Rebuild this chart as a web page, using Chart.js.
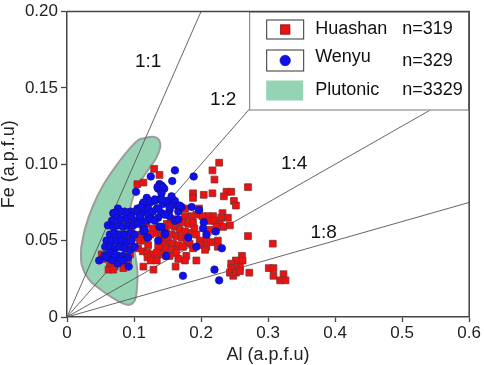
<!DOCTYPE html>
<html><head><meta charset="utf-8">
<script src="https://cdn.jsdelivr.net/npm/chart.js@4/dist/chart.umd.min.js"></script>
<style>html,body{margin:0;padding:0;background:#fff;}#wrap{width:484px;height:365px;position:relative;}</style>
</head><body><div id="wrap"><canvas id="c"></canvas></div>
<script>
const xTickLabels = ['0','0.1','0.2','0.3','0.4','0.5','0.6'];
const yTickLabels = ['0','0.05','0.10','0.15','0.20'];
const seriesNames = ['Huashan','Wenyu','Plutonic'];
const seriesCounts = ['n=319','n=329','n=3329'];
const ratioLabels = ['1:1','1:2','1:4','1:8'];
const ratioSlopes = [1,0.5,0.25,0.125];

// Huashan (Al, Fe)
const huashan = [
[0.105,0.087],[0.114,0.088],[0.130,0.097],[0.138,0.093],
[0.227,0.101],[0.217,0.096],[0.220,0.090],[0.270,0.085],
[0.188,0.081],[0.204,0.080],[0.217,0.081],[0.238,0.082],[0.245,0.082],[0.234,0.079],[0.249,0.076],[0.252,0.073],[0.188,0.078],
[0.176,0.071],[0.197,0.071],[0.232,0.068],[0.240,0.065],[0.218,0.066],[0.210,0.066],[0.202,0.066],[0.193,0.067],[0.186,0.066],[0.176,0.066],
[0.230,0.065],[0.213,0.063],[0.220,0.063],[0.228,0.061],[0.233,0.059],[0.223,0.059],[0.213,0.057],[0.243,0.060],[0.270,0.053],
[0.158,0.064],[0.166,0.062],[0.173,0.062],[0.181,0.061],[0.188,0.062],[0.153,0.061],[0.161,0.059],[0.168,0.057],[0.176,0.056],
[0.186,0.055],[0.190,0.058],[0.193,0.054],[0.148,0.055],[0.156,0.054],[0.163,0.053],[0.171,0.052],[0.178,0.050],[0.198,0.050],
[0.208,0.051],[0.215,0.049],[0.225,0.050],[0.141,0.050],[0.151,0.049],[0.158,0.048],[0.146,0.046],[0.153,0.044],[0.166,0.047],
[0.173,0.046],[0.183,0.048],[0.188,0.045],[0.201,0.047],[0.208,0.046],[0.141,0.042],[0.148,0.040],[0.161,0.044],[0.178,0.040],
[0.176,0.037],[0.193,0.037],[0.206,0.044],[0.225,0.046],[0.162,0.033],
[0.261,0.040],[0.262,0.037],[0.252,0.037],[0.245,0.035],[0.258,0.033],[0.252,0.032],[0.245,0.032],[0.243,0.029],[0.248,0.027],
[0.252,0.029],[0.258,0.030],[0.272,0.029],
[0.307,0.048],[0.301,0.032],[0.308,0.032],[0.308,0.027],[0.323,0.028],[0.318,0.024],[0.326,0.024],
[0.111,0.054],[0.104,0.052],[0.109,0.050],[0.116,0.050],[0.121,0.047],[0.106,0.045],[0.113,0.043],[0.120,0.042],[0.128,0.041],
[0.120,0.039],[0.125,0.037],[0.134,0.037],[0.114,0.033],[0.129,0.031],[0.134,0.055],[0.141,0.053],[0.148,0.052],[0.138,0.049],
[0.143,0.047],[0.136,0.046],[0.148,0.045],[0.156,0.044],[0.163,0.042],[0.153,0.040],[0.141,0.041],[0.166,0.038],[0.134,0.042],
[0.052,0.041],[0.054,0.038],[0.064,0.033],[0.062,0.031],[0.066,0.035],[0.071,0.033],[0.084,0.035],[0.091,0.038],[0.094,0.041],
[0.096,0.046],[0.091,0.052],[0.096,0.058],[0.094,0.063],[0.069,0.031],[0.084,0.032],
[0.156,0.063],[0.149,0.061],[0.153,0.060],[0.118,0.061],[0.128,0.058],[0.145,0.058],[0.124,0.054]
];

// Wenyu (Al, Fe)
const wenyu = [
[0.161,0.096],[0.189,0.092],[0.157,0.089],[0.125,0.092],[0.103,0.082],[0.138,0.087],[0.136,0.084],[0.145,0.084],[0.141,0.081],
[0.119,0.078],[0.131,0.076],[0.138,0.077],[0.113,0.074],[0.124,0.075],[0.105,0.071],[0.096,0.068],[0.086,0.069],[0.076,0.071],
[0.069,0.068],[0.114,0.069],[0.121,0.071],[0.134,0.071],[0.143,0.074],[0.151,0.075],[0.158,0.074],[0.161,0.076],[0.166,0.072],
[0.153,0.070],[0.141,0.068],[0.109,0.065],[0.124,0.066],[0.136,0.065],[0.101,0.063],[0.111,0.063],[0.153,0.066],[0.166,0.069],
[0.186,0.072],[0.204,0.062],[0.208,0.054],[0.203,0.058],[0.181,0.052],[0.146,0.055],[0.138,0.059],[0.120,0.052],[0.114,0.058],
[0.193,0.046],[0.231,0.045],[0.148,0.040],[0.092,0.033],[0.048,0.037],[0.173,0.027],[0.220,0.031],[0.227,0.024],
[0.141,0.086],[0.148,0.076],[0.156,0.073],[0.171,0.072],[0.197,0.070],[0.168,0.073],[0.161,0.063],[0.166,0.064],[0.222,0.056],
[0.141,0.059],[0.146,0.054],
[0.135,0.085],[0.143,0.085],[0.131,0.077],[0.121,0.076],[0.114,0.075],[0.141,0.077],[0.156,0.079],[0.153,0.072],[0.111,0.072],
[0.104,0.069],[0.095,0.069],[0.089,0.068],[0.080,0.069],[0.071,0.068],[0.075,0.065],[0.081,0.064],[0.089,0.064],[0.096,0.066],
[0.109,0.066],[0.121,0.067],[0.128,0.069],[0.136,0.071],[0.146,0.067],[0.119,0.063],[0.114,0.056],[0.125,0.064],[0.131,0.063],
[0.067,0.063],[0.061,0.060],[0.069,0.059],[0.076,0.060],[0.084,0.059],[0.091,0.060],[0.099,0.060],[0.106,0.061],
[0.064,0.054],[0.071,0.055],[0.079,0.054],[0.086,0.054],[0.094,0.055],[0.101,0.054],
[0.059,0.050],[0.067,0.050],[0.074,0.050],[0.081,0.050],[0.089,0.049],[0.096,0.050],
[0.057,0.046],[0.064,0.046],[0.071,0.045],[0.079,0.046],[0.086,0.045],[0.094,0.044],[0.101,0.046],
[0.062,0.041],[0.069,0.040],[0.076,0.040],[0.084,0.040],[0.091,0.039],[0.065,0.038],[0.056,0.040],
[0.136,0.050],[0.116,0.057],[0.121,0.052],
[0.059,0.039],[0.069,0.037],[0.076,0.035],[0.084,0.037],[0.064,0.042],[0.071,0.041]
];

// Plutonic field outline (Al, Fe)
const plutonic = [
[0.021,0.045],[0.027,0.058],[0.038,0.072],[0.055,0.087],[0.075,0.100],[0.095,0.111],[0.107,0.116],[0.115,0.117],
[0.128,0.118],[0.137,0.116],[0.139,0.111],[0.133,0.104],[0.122,0.097],[0.110,0.089],[0.100,0.080],[0.094,0.070],
[0.095,0.058],[0.100,0.045],[0.105,0.030],[0.104,0.017],[0.100,0.010],[0.090,0.008],[0.070,0.012],[0.050,0.018],
[0.032,0.025],[0.022,0.034],[0.021,0.045]
];

const toXY = arr => arr.map(p => ({x:p[0], y:p[1]}));
const FONT = '"Liberation Sans", Arial, Helvetica, sans-serif';

const ratioDatasets = ratioSlopes.map((s,i) => {
  const xe = Math.min(0.6, 0.2 / s);
  return {label: ratioLabels[i], data:[{x:0,y:0},{x:xe,y:xe*s}], showLine:true, pointRadius:0,
    borderColor:'#555', borderWidth:0.9, fill:false, order:5};
});

const overlay = {
  id:'overlay',
  afterDatasetsDraw(chart, args, opts){
    const {ctx, chartArea:a, scales:{x,y}} = chart;
    ctx.save();
    ctx.font = '19px ' + FONT;
    ctx.fillStyle = '#111'; ctx.textAlign = 'center'; ctx.textBaseline = 'middle';
    ratioLabels.forEach((t,i) => {
      const p = opts.ratioLabelPos[i];
      ctx.fillText(t, x.getPixelForValue(p[0]), y.getPixelForValue(p[1]));
    });
    // legend
    const W = 220, H = 99, L = a.right - W, T = a.top;
    ctx.fillStyle = '#fff'; ctx.fillRect(L, T, W, H);
    ctx.strokeStyle = '#777'; ctx.lineWidth = 1;
    ctx.strokeRect(L + 0.5, T + 0.5, W - 1, H - 1);
    // sample 1
    ctx.strokeStyle = '#333'; ctx.lineWidth = 1;
    ctx.strokeRect(L + 17.5, T + 8.5, 37, 19);
    ctx.fillStyle = '#ee1111'; ctx.fillRect(L + 31, T + 13, 10, 10);
    ctx.strokeStyle = '#7a2a2a'; ctx.strokeRect(L + 31.5, T + 13.5, 9, 9);
    // sample 2
    ctx.strokeStyle = '#333';
    ctx.strokeRect(L + 17.5, T + 38.5, 37, 21);
    ctx.beginPath(); ctx.arc(L + 36, T + 49, 5.2, 0, Math.PI*2);
    ctx.fillStyle = '#1010ee'; ctx.fill(); ctx.strokeStyle = '#101080'; ctx.lineWidth = 0.7; ctx.stroke();
    // sample 3
    ctx.fillStyle = '#94d3b4'; ctx.fillRect(L + 17, T + 69, 37, 20);
    // text
    ctx.font = '18px ' + FONT; ctx.fillStyle = '#111'; ctx.textAlign = 'left';
    ctx.fillText(seriesNames[0], L + 66, T + 18);
    ctx.fillText(seriesCounts[0], L + 153, T + 18);
    ctx.fillText(seriesNames[1], L + 66, T + 46);
    ctx.fillText(seriesCounts[1], L + 153, T + 50);
    ctx.fillText(seriesNames[2], L + 66, T + 79);
    ctx.fillText(seriesCounts[2], L + 153, T + 79);
    // frame top/right
    ctx.strokeStyle = '#444'; ctx.lineWidth = 1.5;
    ctx.beginPath(); ctx.moveTo(a.left, a.top); ctx.lineTo(a.right, a.top); ctx.lineTo(a.right, a.bottom); ctx.stroke();
    ctx.restore();
  }
};

new Chart(document.getElementById('c'), {
  type:'scatter',
  data:{ datasets:[
    {label:seriesNames[1], data:toXY(wenyu), pointStyle:'circle', pointRadius:3.8,
      backgroundColor:'#1010ee', borderColor:'#10107a', borderWidth:0.6, order:0},
    {label:seriesNames[0], data:toXY(huashan), pointStyle:'rect', pointRadius:4.8,
      backgroundColor:'#ee1111', borderColor:'#803030', borderWidth:0.8, order:1},
    ...ratioDatasets,
    {label:seriesNames[2], data:toXY(plutonic), showLine:true, pointRadius:0, tension:0.4,
      fill:'shape', backgroundColor:'#94d3b4', borderColor:'#9c9c9c', borderWidth:2, order:10}
  ]},
  options:{
    responsive:true, maintainAspectRatio:false, animation:false, events:[],
    layout:{padding:{top:9, right:14, bottom:0, left:0}},
    plugins:{legend:{display:false}, tooltip:{enabled:false},
      overlay:{ratioLabelPos:[[0.121,0.167],[0.233,0.142],[0.339,0.1006],[0.383,0.055]]}},
    scales:{
      x:{type:'linear', min:0, max:0.6,
        ticks:{stepSize:0.1, color:'#222', font:{family:FONT, size:17, lineHeight:1}, padding:3, maxRotation:0, autoSkip:false,
          callback:(v,i)=>xTickLabels[i]},
        grid:{drawOnChartArea:false, drawTicks:true, tickLength:5, color:'#444', tickWidth:1.3},
        border:{display:true, color:'#444', width:1.5},
        title:{display:true, text:'Al (a.p.f.u)', color:'#222', font:{family:FONT, size:18, lineHeight:1}, padding:{top:0,bottom:1}},
        afterFit:s=>{s.height = 48;}
      },
      y:{type:'linear', min:0, max:0.2,
        ticks:{stepSize:0.05, color:'#222', font:{family:FONT, size:17, lineHeight:1}, padding:3, autoSkip:false,
          callback:(v,i)=>yTickLabels[i]},
        grid:{drawOnChartArea:false, drawTicks:true, tickLength:6, color:'#444', tickWidth:1.3},
        border:{display:true, color:'#444', width:1.5},
        title:{display:true, text:'Fe (a.p.f.u)', color:'#222', font:{family:FONT, size:18, lineHeight:1}, padding:{top:0,bottom:0}},
        afterFit:s=>{s.width = 67;}
      }
    }
  },
  plugins:[overlay]
});
</script></body></html>
